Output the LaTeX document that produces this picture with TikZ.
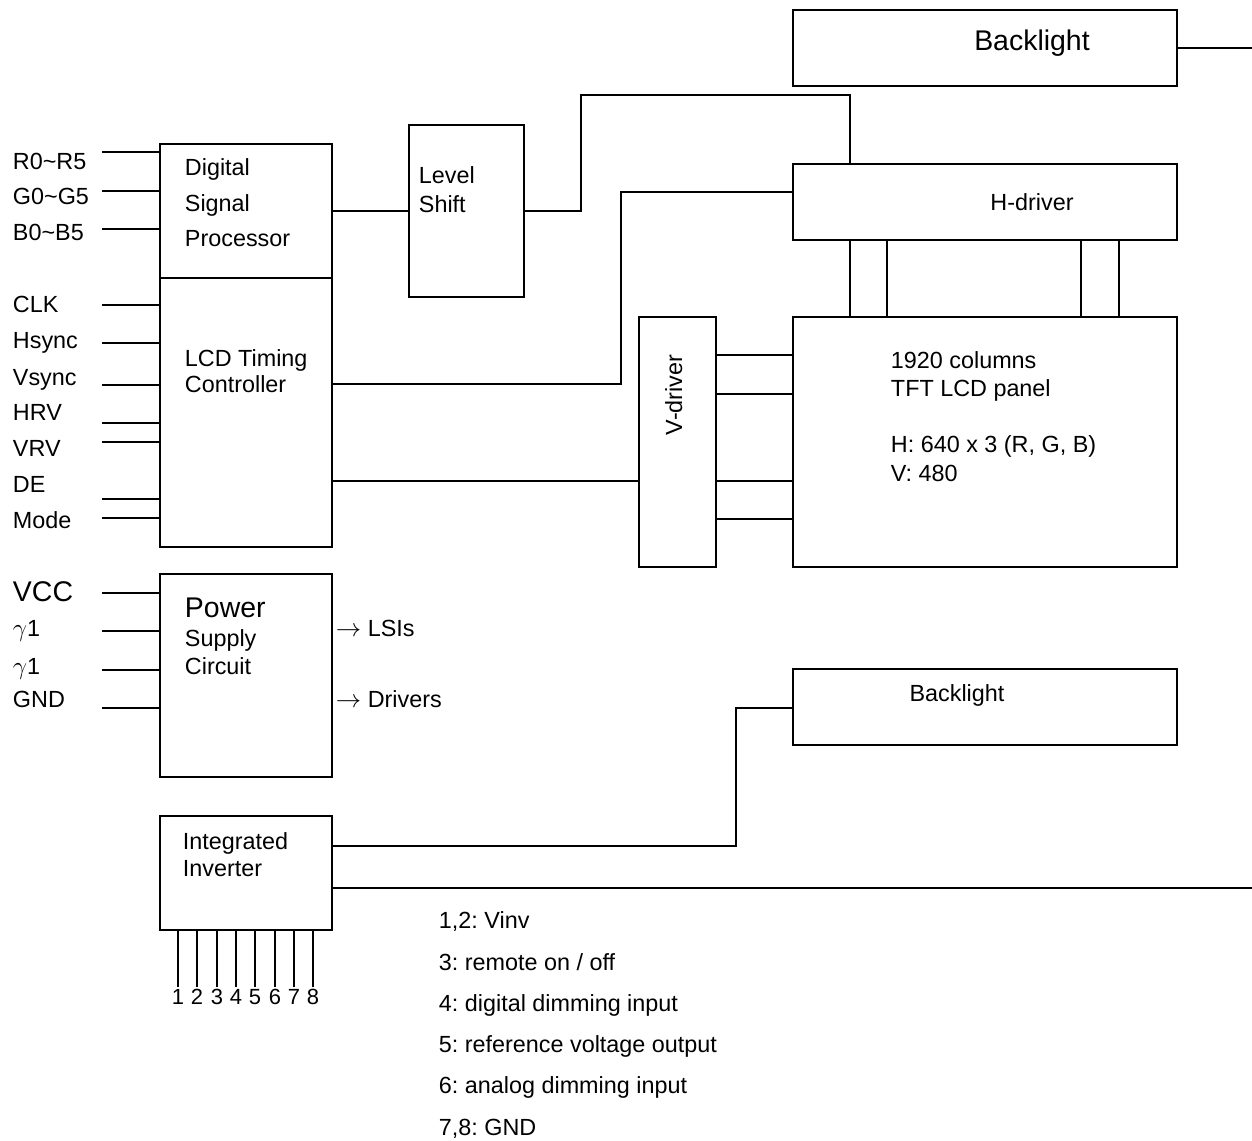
\documentclass[tikz,border=0pt]{standalone}
\usepackage{fontspec}
\setmainfont{Liberation Sans}
\usetikzlibrary{positioning,fit,calc}
\frenchspacing

\begin{document}
\begin{tikzpicture}[x=0.02cm,y=-0.02cm,line width=1.1pt,
    blk/.style={draw,rectangle,inner sep=0pt,outer sep=0pt},
    txt/.style={inner sep=0pt,anchor=base west,font=\fontsize{13.3}{16}\selectfont},
    bigtxt/.style={inner sep=0pt,anchor=base west,font=\fontsize{16.2}{19}\selectfont},
    pintxt/.style={inner sep=0pt,anchor=base,font=\fontsize{12.5}{15}\selectfont}]
    \useasboundingbox (0,0) rectangle (1252,1141);

    \node[blk,fit={(793,10) (1177,86)}](bltop){};
    \node[blk,fit={(409,125) (524,297)}](lvl){};
    \node[blk,fit={(160,144) (332,278)}](dsp){};
    \node[blk,fit={(160,278) (332,547)}](tcon){};
    \node[blk,fit={(793,164) (1177,240)}](hdrv){};
    \node[blk,fit={(793,317) (1177,567)}](panel){};
    \node[blk,fit={(639,317) (716,567)}](vdrv){};
    \node[blk,fit={(160,574) (332,777)}](pwr){};
    \node[blk,fit={(793,669) (1177,745)}](blbot){};
    \node[blk,fit={(160,816) (332,930)}](inv){};

    \node[bigtxt,anchor=base](bltop-txt) at (1032,51){Backlight};
    \node[txt,anchor=base](blbot-txt) at (957,702){Backlight};
    \node[txt,anchor=base](hdrv-txt) at (1032,211){H-driver};
    \node[txt,anchor=base,rotate=90](vdrv-txt) at (682,395){V-driver};
    \node[txt](lvl-a) at (418,184){Level};
    \node[txt](lvl-b) at (418,213){Shift};
    \node[txt](dsp-a) at (184,176){Digital};
    \node[txt](dsp-b) at (184,212){Signal};
    \node[txt](dsp-c) at (184,247){Processor};
    \node[txt](tcon-a) at (184,367){LCD Timing};
    \node[txt](tcon-b) at (184,393){Controller};
    \node[bigtxt](pwr-a) at (184,618){Power};
    \node[txt](pwr-b) at (184,647){Supply};
    \node[txt](pwr-c) at (184,675){Circuit};
    \node[txt](inv-a) at (182,850){Integrated};
    \node[txt](inv-b) at (182,877){Inverter};
    \node[txt](panel-a) at (890,369){1920 columns};
    \node[txt](panel-b) at (890,397){TFT LCD panel};
    \node[txt](panel-c) at (890,453){H: 640 x 3 (R, G, B)};
    \node[txt](panel-d) at (890,482){V: 480};
    \node[txt](lsi) at (335,637){$\rightarrow$ LSIs};
    \node[txt](drv) at (335,708){$\rightarrow$ Drivers};

    \foreach \lbl/\yl/\yw [count=\i] in {R0\textasciitilde R5/170/152, G0\textasciitilde G5/205/191, B0\textasciitilde B5/241/229}{
        \node[txt](rgb-lbl-\i) at (12,\yl){\lbl};
        \coordinate (rgb-\i) at (102,\yw);
        \draw (rgb-\i)--(dsp.west |- rgb-\i);
    }
    \foreach \lbl/\yl/\yw [count=\i] in {CLK/313/305, Hsync/349/343, Vsync/386/385, HRV/421/423, VRV/457/442, DE/493/499, Mode/529/518}{
        \node[txt](sync-lbl-\i) at (12,\yl){\lbl};
        \coordinate (sync-\i) at (102,\yw);
        \draw (sync-\i)--(tcon.west |- sync-\i);
    }
    \node[bigtxt](vcc-lbl) at (12,602){VCC};
    \node[txt](g1-lbl) at (12,637){$\gamma$1};
    \node[txt](g2-lbl) at (12,675){$\gamma$1};
    \node[txt](gnd-lbl) at (12,708){GND};
    \foreach \yw [count=\i] in {593,631,670,708}{
        \coordinate (sup-\i) at (102,\yw);
        \draw (sup-\i)--(pwr.west |- sup-\i);
    }

    \draw (dsp)--(lvl);
    \draw (lvl.east) -| (581,95) -- (850,95) -- (hdrv.north -| 850,0);
    \draw (tcon.east |- 0,384) -| (621,192) -- (hdrv.west |- 0,192);
    \draw (tcon.east |- 0,481)--(vdrv.west |- 0,481);
    \foreach \y in {355,394,481,519}
        \draw (vdrv.east |- 0,\y)--(panel.west |- 0,\y);
    \foreach \x in {850,887,1081,1119}
        \draw (hdrv.south -| \x,0)--(panel.north -| \x,0);

    \coordinate (edge-top) at (1252,48);
    \draw (bltop.east)--(edge-top);
    \draw (inv.east |- 0,846) -| (736,708) -- (blbot.west |- 0,708);
    \coordinate (edge-bot) at (1252,888);
    \draw (inv.east |- 0,888)--(edge-bot);

    \foreach \x [count=\i] in {178,197,217,236,255,275,294,313}{
        \coordinate (pin-\i) at (\x,987);
        \draw (inv.south -| pin-\i)--(pin-\i);
        \node[pintxt](pin-no-\i) at ($(pin-\i)+(0,18)$){\i};
    }
    \foreach \t [count=\i] in {{1,2: Vinv},{3: remote on / off},{4: digital dimming input},{5: reference voltage output},{6: analog dimming input},{7,8: GND}}
        \node[txt](key-\i) at (438,{929+(\i-1)*41.2}){\t};
\end{tikzpicture}
\end{document}
